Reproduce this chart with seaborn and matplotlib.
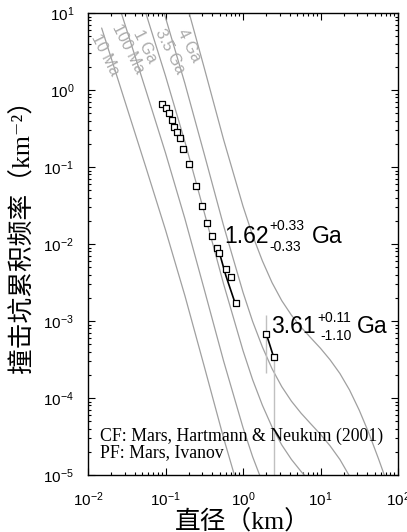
import numpy as np
import pandas as pd
import seaborn as sns
import matplotlib.pyplot as plt

sns.set_theme(style="ticks")
plt.rcParams['font.family'] = ['Liberation Sans', 'Noto Sans CJK SC']
plt.rcParams['mathtext.default'] = 'regular'
plt.rcParams['text.color'] = 'black'

# isochron diameters (km) and cumulative densities (km^-2)
iso_d = [0.015, 0.0316, 0.0562, 0.1, 0.178, 0.316, 0.562, 1.0, 1.33, 1.78,
         2.37, 3.16, 4.22, 5.62, 7.5, 10, 13.3, 17.8, 23.7, 31.6, 42.2, 56.2, 75.0, 100]
iso_10ma = [6.38, 0.601, 0.0970, 0.01524, 2.13e-3, 2.58e-4, 3.02e-5, 4.13e-6]
iso_100ma = [63.8, 6.01, 0.970, 0.1524, 0.02128, 2.58e-3, 3.02e-4, 4.13e-5, 1.73e-5, 8.04e-6]
iso_1ga = [638, 60.1, 9.70, 1.524, 0.2128, 0.0258, 3.02e-3, 4.13e-4, 1.73e-4, 8.04e-5,
           4.20e-5, 2.46e-5, 1.59e-5, 1.11e-5, 8.05e-6]
iso_35ga = [3650, 344, 55.6, 8.73, 1.216, 0.1476, 0.01726, 2.36e-3, 9.89e-4, 4.59e-4,
            2.40e-4, 1.406e-4, 9.08e-5, 6.34e-5, 4.61e-5, 3.37e-5, 2.39e-5, 1.59e-5, 9.66e-6]
iso_4ga = [4.79e4, 4500, 728, 114, 15.9, 1.94, 0.2265, 0.03097, 0.01294, 6.03e-3,
           3.15e-3, 1.84e-3, 1.19e-3, 8.30e-4, 6.04e-4, 4.42e-4, 3.13e-4, 2.08e-4,
           1.27e-4, 6.95e-5, 3.47e-5, 1.61e-5, 7.14e-6]
iso_names = ['10 Ma', '100 Ma', '1 Ga', '3.5 Ga', '4 Ga']

# measured crater counts
crater_d = [0.091, 0.1006, 0.111, 0.120, 0.130, 0.142, 0.152, 0.168, 0.201, 0.249,
            0.296, 0.348, 0.394, 0.458, 0.494, 0.604, 0.700, 0.806, 2.00, 2.49]
crater_n = [0.658, 0.578, 0.498, 0.408, 0.334, 0.282, 0.236, 0.170, 0.109, 0.0571,
            0.0312, 0.0190, 0.0127, 0.00879, 0.00771, 0.00469, 0.00370, 0.00170, 6.78e-4, 3.38e-4]
err_d = [2.00, 2.49]
err_lo = [2.09e-4, 1e-6]
err_hi = [1.20e-3, 3.38e-4]

# fitted segments
fit1_d = [0.475, 0.60, 0.80]
fit1_n = [9.0e-3, 3.9e-3, 1.65e-3]
fit2_d = [2.00, 2.49]
fit2_n = [6.78e-4, 3.38e-4]

# model ages: value, +err, -err, label anchor (D, N)
ages = ['1.62', '3.61']
age_plus = ['+0.33', '+0.11']
age_minus = ['-0.33', '-1.10']
age_d = [0.569, 2.278]
age_n = [0.0103, 6.92e-4]

rows = []
for name, vals in zip(iso_names, [iso_10ma, iso_100ma, iso_1ga, iso_35ga, iso_4ga]):
    for d, n in zip(iso_d, vals):
        rows.append((name, d, n))
iso = pd.DataFrame(rows, columns=['age', 'D', 'N'])

fig = plt.figure(figsize=(4.07, 5.32), dpi=100)
ax = fig.add_axes([88/407, 57/532, 310/407, 462/532])
ax.set_xscale('log')
ax.set_yscale('log')

grey = '#a0a0a0'
for name in iso_names:
    sub = iso[iso['age'] == name]
    sns.lineplot(data=sub, x='D', y='N', color=grey, lw=0.9, ax=ax, sort=False)

ax.vlines(err_d, err_lo, err_hi, color='#c0c0c0', lw=1)
sns.lineplot(x=fit1_d, y=fit1_n, color='black', lw=1.2, ax=ax, sort=False)
sns.lineplot(x=fit2_d, y=fit2_n, color='black', lw=1.2, ax=ax, sort=False)
sns.scatterplot(x=crater_d, y=crater_n, marker='s', s=20, facecolor='white',
                edgecolor='black', linewidth=0.9, ax=ax, zorder=5)

ax.set_xlim(1e-2, 1e2)
ax.set_ylim(1e-5, 1e1)
ax.set_xlabel('')
ax.set_ylabel('')
for s in ax.spines.values():
    s.set_linewidth(1)
    s.set_color('black')
ax.tick_params(which='both', direction='in', top=True, right=True, width=0.8,
               colors='black', labelcolor='black')
ax.tick_params(which='major', length=5, labelsize=11)
ax.tick_params(which='minor', length=2.5)
ax.tick_params(axis='x', pad=11)
ax.tick_params(axis='y', pad=10)

# isochron labels
lab_d = [0.01656, 0.0328, 0.0543, 0.1143, 0.201]
lab_n = [2.85, 3.40, 3.73, 3.21, 3.84]
for name, d, n in zip(iso_names, lab_d, lab_n):
    ax.text(d, n, name, rotation=-63, rotation_mode='anchor', ha='center', va='center',
            color='#aaaaaa', fontsize=11.5)

# model age annotations
sup_off = [(32.4, 9.4), (33.8, 8.4)]
sub_off = [(32.4, -5.8), (36.0, -4.8)]
ga_off = [63.4, 62.0]
for i in range(2):
    xy = (age_d[i], age_n[i])
    ax.annotate(ages[i], xy, fontsize=16.5, ha='left', va='baseline')
    ax.annotate(age_plus[i], xy, xytext=sup_off[i], textcoords='offset points',
                fontsize=10, ha='left', va='baseline')
    ax.annotate(age_minus[i], xy, xytext=sub_off[i], textcoords='offset points',
                fontsize=10, ha='left', va='baseline')
    ax.annotate('Ga', xy, xytext=(ga_off[i], 0), textcoords='offset points',
                fontsize=16.5, ha='left', va='baseline')

serif = ['Liberation Serif', 'DejaVu Serif', 'Noto Sans CJK SC']
ax.text(0.0387, 0.074, 'CF: Mars, Hartmann & Neukum (2001)', transform=ax.transAxes,
        family=serif, fontsize=12.8, va='baseline')
ax.text(0.0387, 0.0396, 'PF: Mars, Ivanov', transform=ax.transAxes,
        family=serif, fontsize=12.8, va='baseline')

fig.text(22/407, 1 - 230/532, '撞击坑累积频率（km⁻²）', rotation=90, ha='center', va='center',
         family=serif, fontsize=18.5)
fig.text(243/407, 1 - 522/532, '直径（km）', ha='center', va='center',
         family=serif, fontsize=18.5)

fig.savefig('out.png', dpi=100)
